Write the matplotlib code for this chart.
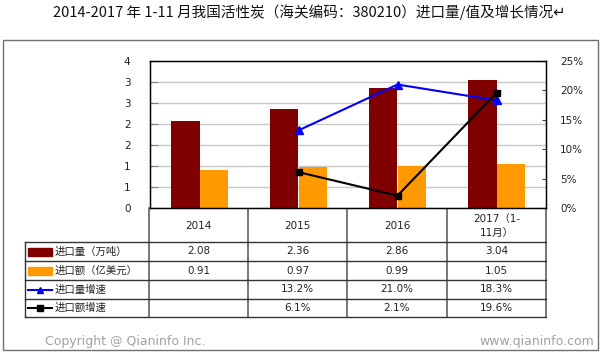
import numpy as np
import matplotlib
matplotlib.use('Agg')
import matplotlib.pyplot as plt
from matplotlib.patches import Rectangle

plt.rcParams['font.family'] = ['Noto Sans CJK SC', 'DejaVu Sans']

# data
years = ['2014', '2015', '2016', '2017（1-\n11月）']
volume = [2.08, 2.36, 2.86, 3.04]        # 进口量（万吨）
value = [0.91, 0.97, 0.99, 1.05]         # 进口额（亿美元）
vol_growth = [None, 13.2, 21.0, 18.3]    # 进口量增速 %
val_growth = [None, 6.1, 2.1, 19.6]      # 进口额增速 %
left_ticks = [0, 0.5, 1, 1.5, 2, 2.5, 3, 3.5]
left_labels = ['0', '1', '1', '2', '2', '3', '3', '4']
right_ticks = [0, 5, 10, 15, 20, 25]
names = ['进口量（万吨）', '进口额（亿美元）', '进口量增速', '进口额增速']

W, H = 603, 353
c_vol = '#800000'
c_val = '#FF9900'
c_vg = '#0000FF'
c_ag = '#000000'

fig = plt.figure(figsize=(W / 100, H / 100), dpi=100)

def px(x0, y0, x1, y1):
    # pixel box (top-left origin) -> figure fraction
    return [x0 / W, 1 - y1 / H, (x1 - x0) / W, (y1 - y0) / H]

# overlay for border, table, texts
ov = fig.add_axes([0, 0, 1, 1])
ov.set_xlim(0, W)
ov.set_ylim(H, 0)
ov.axis('off')

# main plot area
ax = fig.add_axes(px(150, 61, 546, 208))
x = np.arange(len(years))
bw = 0.29
ax.bar(x - bw / 2, volume, bw, color=c_vol, zorder=2)
ax.bar(x + bw / 2, value, bw, color=c_val, zorder=2)
ax.set_xlim(-0.5, len(years) - 0.5)
ax.set_ylim(0, 3.5)
ax.set_yticks(left_ticks)
ax.set_yticklabels(left_labels, fontsize=7.5, family='DejaVu Sans', color='#222222')
ax.tick_params(axis='y', direction='in', length=6, pad=14, color='#808080')
ax.set_xticks([])
ax.grid(axis='y', color='#c8c8c8', lw=1, zorder=0)
for s in ax.spines.values():
    s.set_color('black')
    s.set_linewidth(1)

ax2 = ax.twinx()
xv = [i for i, v in enumerate(vol_growth) if v is not None]
ax2.plot(xv, [vol_growth[i] for i in xv], color=c_vg, lw=1.5, marker='^', ms=6, zorder=3)
xa = [i for i, v in enumerate(val_growth) if v is not None]
ax2.plot(xa, [val_growth[i] for i in xa], color=c_ag, lw=1.5, marker='s', ms=5, zorder=3)
ax2.set_ylim(0, 25)
ax2.set_yticks(right_ticks)
ax2.set_yticklabels([f'{t}%' for t in right_ticks], fontsize=7.5, family='DejaVu Sans', color='#222222')
ax2.tick_params(axis='y', direction='in', length=3, pad=10, color='#404040')
for s in ax2.spines.values():
    s.set_color('black')

# title
ov.text(W / 2 + 8, 12, '2014-2017 年 1-11 月我国活性炭（海关编码：380210）进口量/值及增长情况↵',
        ha='center', va='center', fontsize=10.5, color='#111111')

# outer border
ov.add_patch(Rectangle((3, 40), 595, 310, fill=False, ec='#707070', lw=1))

# table
col_x = [149, 248, 347, 447, 546]
row_y = [242, 261, 280, 299, 317]
tc = '#333333'
for cx in col_x:
    ov.plot([cx, cx], [208, 317], color='#606060', lw=1.2)
ov.plot([25, 25], [242, 317], color=tc, lw=1)
for ry in row_y:
    ov.plot([25, 546], [ry, ry], color=tc, lw=1)

for i, yl in enumerate(years):
    cx = (col_x[i] + col_x[i + 1]) / 2
    ov.text(cx, 226, yl, ha='center', va='center', fontsize=7.5, linespacing=1.5,
            family=['DejaVu Sans', 'Noto Sans CJK SC'], color='#222222')

rows = [
    [f'{v:.2f}' for v in volume],
    [f'{v:.2f}' for v in value],
    ['' if v is None else f'{v:.1f}%' for v in vol_growth],
    ['' if v is None else f'{v:.1f}%' for v in val_growth],
]
cy = [(row_y[r] + row_y[r + 1]) / 2 for r in range(4)]
for r, vals in enumerate(rows):
    for i, t in enumerate(vals):
        cx = (col_x[i] + col_x[i + 1]) / 2
        ov.text(cx, cy[r], t, ha='center', va='center', fontsize=7.5,
                family='DejaVu Sans', color='#222222')
    ov.text(55, cy[r], names[r], ha='left', va='center', fontsize=7.5, color='#222222')

# legend keys
ov.add_patch(Rectangle((28, cy[0] - 4), 24, 8, color=c_vol))
ov.add_patch(Rectangle((28, cy[1] - 4), 24, 8, color=c_val))
ov.plot([28, 52], [cy[2], cy[2]], color=c_vg, lw=1.5)
ov.plot([40], [cy[2]], marker='^', color=c_vg, ms=5)
ov.plot([28, 52], [cy[3], cy[3]], color=c_ag, lw=1.5)
ov.plot([40], [cy[3]], marker='s', color=c_ag, ms=4.5)

# footer
ov.text(45, 342, 'Copyright @ Qianinfo Inc.', ha='left', va='center', fontsize=9,
        family='DejaVu Sans', color='#a0a0a0')
ov.text(594, 342, 'www.qianinfo.com', ha='right', va='center', fontsize=9,
        family='DejaVu Sans', color='#a0a0a0')

fig.savefig('out.png', dpi=100)
